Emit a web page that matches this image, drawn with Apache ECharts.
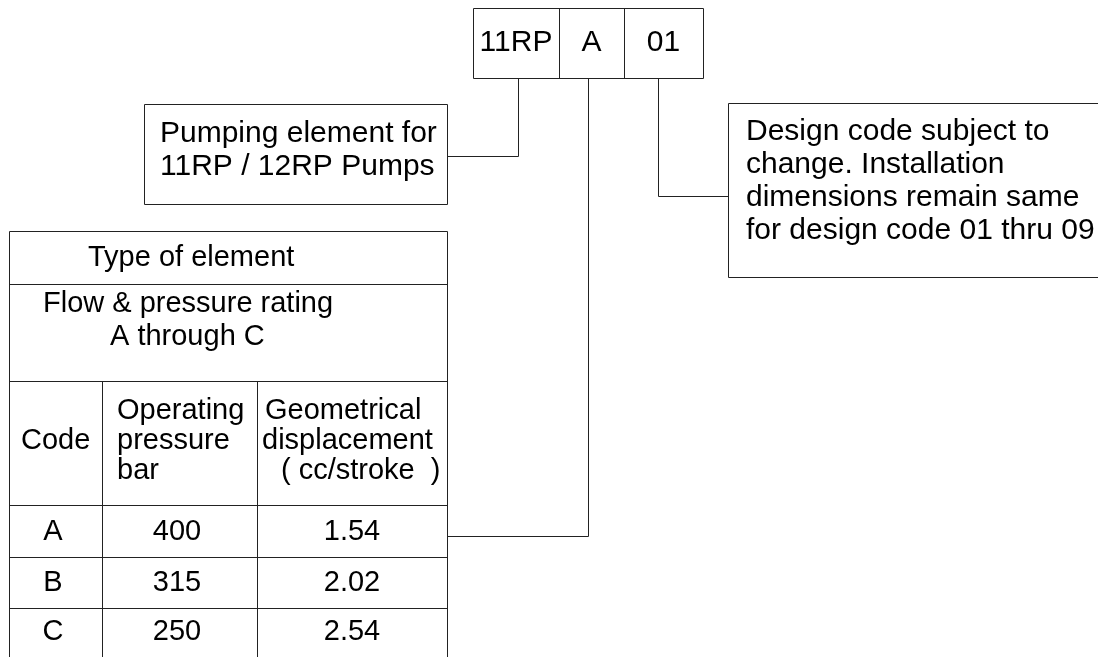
<!DOCTYPE html>
<html>
<head>
<meta charset="utf-8">
<style>
html,body{margin:0;padding:0;background:#fff;}
#chart{width:1098px;height:657px;}
</style>
<script src="https://cdn.jsdelivr.net/npm/echarts@6/dist/echarts.min.js"></script>
</head>
<body>
<div id="chart"></div>
<script>
// ---------- DATA ----------
const topCodes = ['11RP', 'A', '01'];
const pumpNote = ['Pumping element for', '11RP / 12RP Pumps'];
const designNote = ['Design code subject to', 'change. Installation', 'dimensions remain same', 'for design code 01 thru 09'];
const tableTitle = 'Type of element';
const tableSubtitle = ['Flow & pressure rating', 'A through C'];
const codeHeader = ['Code'];
const pressureHeader = ['Operating', 'pressure', 'bar'];
const displacementHeader = ['Geometrical', 'displacement', '( cc/stroke  )'];
const codes = ['A', 'B', 'C'];
const pressureBar = [400, 315, 250];
const displacementCc = [1.54, 2.02, 2.54];

// ---------- LAYOUT (diagram space, same units as canvas) ----------
const W = 1098, H = 657;
const L = {
  top: { x0: 473, x1: 703, y0: 8, y1: 78, dividers: [559, 624], ty: 43 },
  pump: { x0: 144, x1: 447, y0: 104, y1: 204, tx: 160, ty: 134, lh: 33 },
  design: { x0: 728, x1: 1110, y0: 103, y1: 277, tx: 746, ty: 132, lh: 33 },
  table: {
    x0: 9, x1: 447, y0: 231, yEnd: 657,
    rowLines: [284, 381, 505, 557, 608],
    colLines: [102, 257],
    titleX: 88, titleY: 258,
    subX: [43, 110], subY: [304, 337],
    headTop: 411, headLh: 30,
    codeX: 21, pressX: 117, dispX: [265, 262, 281],
    dataY: [532, 583, 632],
    dataX: [53, 177, 352]
  },
  links: { pumpY: 156, aY: 536, designY: 196 }
};
const NOTE_FONT = 30, TABLE_FONT = 29;
const FAMILY = '"Liberation Sans", Arial, Helvetica, sans-serif';

// build segments
const segs = [];
function hseg(x0, x1, y) { segs.push([x0, y, x1, y]); }
function vseg(x, y0, y1) { segs.push([x, y0, x, y1]); }
function rect(x0, y0, x1, y1) { hseg(x0, x1, y0); hseg(x0, x1, y1); vseg(x0, y0, y1); vseg(x1, y0, y1); }

const t = L.top;
rect(t.x0, t.y0, t.x1, t.y1);
t.dividers.forEach(d => vseg(d, t.y0, t.y1));
const topCenters = [516, (t.dividers[0] + t.dividers[1]) / 2, (t.dividers[1] + t.x1) / 2];

rect(L.pump.x0, L.pump.y0, L.pump.x1, L.pump.y1);
rect(L.design.x0, L.design.y0, L.design.x1, L.design.y1);

const tb = L.table;
hseg(tb.x0, tb.x1, tb.y0);
tb.rowLines.forEach(y => hseg(tb.x0, tb.x1, y));
vseg(tb.x0, tb.y0, tb.yEnd);
vseg(tb.x1, tb.y0, tb.yEnd);
tb.colLines.forEach(x => vseg(x, tb.rowLines[1], tb.yEnd));

// connectors
const c11 = 518, cA = 588, c01 = 658;
vseg(c11, t.y1, L.links.pumpY); hseg(L.pump.x1, c11, L.links.pumpY);
vseg(cA, t.y1, L.links.aY); hseg(tb.x1, cA, L.links.aY);
vseg(c01, t.y1, L.links.designY); hseg(c01, L.design.x0, L.links.designY);

// build texts
const texts = [];
function txt(x, y, s, align, size) { texts.push({ value: [x, y], s: String(s), align: align || 'left', size: size || TABLE_FONT }); }
topCodes.forEach((s, i) => txt(topCenters[i], t.ty, s, 'center', NOTE_FONT));
pumpNote.forEach((s, i) => txt(L.pump.tx, L.pump.ty + i * L.pump.lh, s, 'left', NOTE_FONT));
designNote.forEach((s, i) => txt(L.design.tx, L.design.ty + i * L.design.lh, s, 'left', NOTE_FONT));
txt(tb.titleX, tb.titleY, tableTitle);
tableSubtitle.forEach((s, i) => txt(tb.subX[i], tb.subY[i], s));
codeHeader.forEach(s => txt(tb.codeX, tb.headTop + tb.headLh, s));
pressureHeader.forEach((s, i) => txt(tb.pressX, tb.headTop + i * tb.headLh, s));
displacementHeader.forEach((s, i) => txt(tb.dispX[i], tb.headTop + i * tb.headLh, s));
codes.forEach((c, i) => {
  txt(tb.dataX[0], tb.dataY[i], c, 'center');
  txt(tb.dataX[1], tb.dataY[i], pressureBar[i], 'center');
  txt(tb.dataX[2], tb.dataY[i], displacementCc[i].toFixed(2), 'center');
});

const chart = echarts.init(document.getElementById('chart'), null, { renderer: 'canvas' });
chart.setOption({
  animation: false,
  backgroundColor: '#ffffff',
  grid: { left: 0, right: 0, top: 0, bottom: 0 },
  xAxis: { type: 'value', min: 0, max: W, show: false },
  yAxis: { type: 'value', min: 0, max: H, inverse: true, show: false },
  series: [
    {
      type: 'custom',
      name: 'rules',
      silent: true,
      clip: false,
      data: segs,
      renderItem: function (params, api) {
        const p0 = api.coord([api.value(0), api.value(1)]);
        const p1 = api.coord([api.value(2), api.value(3)]);
        const r = v => Math.round(v) + 0.5;
        return {
          type: 'line',
          shape: { x1: r(p0[0]), y1: r(p0[1]), x2: r(p1[0]), y2: r(p1[1]) },
          style: { stroke: '#222', lineWidth: 1 }
        };
      }
    },
    {
      type: 'custom',
      name: 'labels',
      silent: true,
      clip: false,
      data: texts.map(d => d.value),
      renderItem: function (params, api) {
        const p = api.coord([api.value(0), api.value(1)]);
        const d = texts[params.dataIndex];
        return {
          type: 'text',
          x: p[0], y: p[1],
          style: {
            text: d.s,
            fill: '#000',
            font: d.size + 'px ' + FAMILY,
            align: d.align,
            verticalAlign: 'middle'
          }
        };
      }
    }
  ]
});
</script>
</body>
</html>
